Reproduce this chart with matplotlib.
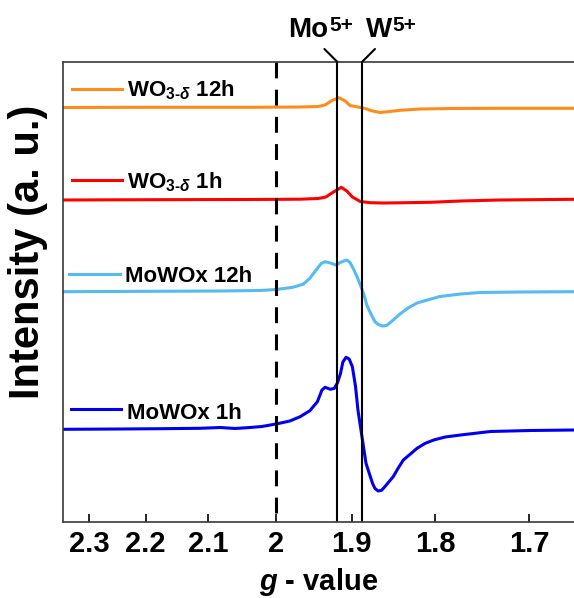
import numpy as np
import matplotlib
matplotlib.use('Agg')
import matplotlib.pyplot as plt
import matplotlib.transforms as mtransforms

plt.rcParams['font.family'] = ['Liberation Sans', 'DejaVu Sans']
plt.rcParams['font.weight'] = 'bold'
plt.rcParams['axes.labelweight'] = 'bold'
plt.rcParams['mathtext.fontset'] = 'custom'
plt.rcParams['mathtext.rm'] = 'Liberation Sans:bold'
plt.rcParams['mathtext.bf'] = 'Liberation Sans:bold'
plt.rcParams['mathtext.it'] = 'Liberation Sans:bold:italic'

# EPR spectra, g-value vs intensity (a.u., curves stacked with offsets)
g_wo3_12h = [2.349, 2.193, 2.037, 1.967, 1.943, 1.934, 1.925, 1.916, 1.908, 1.902,
             1.892, 1.883, 1.874, 1.865, 1.853, 1.841, 1.817, 1.783, 1.730, 1.656]
i_wo3_12h = [414.5, 414.7, 414.7, 415.0, 415.5, 417.0, 421.5, 424.3, 421.0, 416.5,
             415.0, 413.5, 411.0, 409.5, 410.5, 411.7, 413.0, 413.5, 413.7, 413.7]

g_wo3_1h = [2.349, 2.193, 2.037, 1.967, 1.943, 1.933, 1.923, 1.913, 1.906, 1.899,
            1.889, 1.877, 1.861, 1.841, 1.806, 1.772, 1.730, 1.656]
i_wo3_1h = [322.0, 322.3, 322.5, 322.8, 323.5, 325.0, 330.0, 334.7, 331.0, 325.0,
            320.5, 319.3, 319.0, 319.2, 319.7, 321.0, 322.0, 322.7]

g_mowox_12h = [2.349, 2.193, 2.081, 2.023, 2.000, 1.977, 1.963, 1.954, 1.944, 1.939,
               1.934, 1.927, 1.920, 1.913, 1.906, 1.902, 1.898, 1.893, 1.889, 1.884,
               1.881, 1.876, 1.871, 1.867, 1.862, 1.859, 1.856, 1.849, 1.841, 1.832,
               1.821, 1.809, 1.795, 1.772, 1.751, 1.709, 1.656]
i_mowox_12h = [230.3, 230.7, 231.0, 231.5, 232.5, 234.7, 237.7, 243.7, 253.7, 258.5,
               260.3, 259.0, 257.0, 260.0, 262.0, 259.5, 253.7, 245.0, 237.0, 226.0,
               217.0, 208.0, 200.3, 197.5, 196.0, 196.2, 197.0, 202.0, 208.0, 213.7,
               219.0, 222.0, 225.5, 228.0, 229.5, 230.0, 230.3]

g_mowox_1h = [2.349, 2.244, 2.176, 2.112, 2.081, 2.059, 2.037, 2.020, 2.000, 1.981,
              1.967, 1.954, 1.944, 1.938, 1.934, 1.927, 1.922, 1.918, 1.914, 1.911,
              1.907, 1.903, 1.899, 1.895, 1.892, 1.887, 1.882, 1.874, 1.871, 1.867,
              1.863, 1.859, 1.849, 1.843, 1.837, 1.828, 1.821, 1.812, 1.802, 1.789,
              1.772, 1.740, 1.699, 1.656]
i_mowox_1h = [92.7, 93.0, 93.3, 93.7, 94.5, 93.5, 94.5, 95.5, 98.0, 101.0,
              105.3, 111.3, 120.3, 132.0, 134.7, 132.7, 133.7, 139.0, 148.7, 160.0,
              164.7, 163.0, 155.3, 135.3, 112.0, 85.3, 58.7, 38.7, 33.5, 31.0,
              31.7, 35.3, 45.3, 54.0, 62.0, 68.5, 73.7, 78.5, 82.0, 85.0,
              87.0, 90.5, 91.5, 92.0]

labels = ['WO$_{3\\text{-}δ}$ 12h', 'WO$_{3\\text{-}δ}$ 1h', 'MoWOx 12h', 'MoWOx 1h']
colors = ['#ff8c1a', '#ff0000', '#55bbf2', '#0000f0']

g_ticks = [2.3, 2.2, 2.1, 2.0, 1.9, 1.8, 1.7]
tick_labels = ['2.3', '2.2', '2.1', '2', '1.9', '1.8', '1.7']
g_free = 2.0
g_mo, g_w = 1.918, 1.887

fig = plt.figure(figsize=(5.74, 5.98), dpi=100)
ax = fig.add_axes([63/574, 1 - 522/598, 511/574, 460/598])

# field axis is linear in 1/g
series = [(g_wo3_12h, i_wo3_12h), (g_wo3_1h, i_wo3_1h),
          (g_mowox_12h, i_mowox_12h), (g_mowox_1h, i_mowox_1h)]
for (g, inten), c in zip(series, colors):
    ax.plot(1/np.array(g), inten, color=c, lw=2.2,
            solid_joinstyle='round', solid_capstyle='round')

# labels next to each trace
key_pos = [(0.0176, 0.1155, 0.9413, 0.1246, 0.9246),
           (0.0176, 0.1155, 0.7435, 0.1246, 0.7254),
           (0.0124, 0.1115, 0.5391, 0.1213, 0.5211),
           (0.0157, 0.1135, 0.2450, 0.1246, 0.2242)]
for (x0, x1, yl, xt, yt), c, lab in zip(key_pos, colors, labels):
    ax.plot([x0, x1], [yl, yl], transform=ax.transAxes, color=c, lw=2.2)
    ax.text(xt, yt, lab, transform=ax.transAxes, fontsize=16, va='baseline')

trans = mtransforms.blended_transform_factory(ax.transData, ax.transAxes)
ax.plot([1/g_free, 1/g_free], [1, 0], transform=trans, color='k', lw=2.2,
        linestyle=(0, (5.2, 3.7)))

# Mo5+ / W5+ markers above the frame
marks = [(g_mo, 'Mo', -13, -49, -8), (g_w, 'W', 13, 4, 30)]
for g, name, tip, dx_txt, dx_sup in marks:
    ax.axvline(1/g, color='k', lw=1.5)
    ax.annotate('', xy=(1/g, 1), xycoords=trans, xytext=(tip, 13),
                textcoords='offset pixels', annotation_clip=False,
                arrowprops=dict(arrowstyle='-', lw=1.5, color='k', shrinkA=0, shrinkB=0))
    ax.annotate(name, xy=(1/g, 1), xycoords=trans, xytext=(dx_txt, 25),
                textcoords='offset pixels', ha='left', va='baseline',
                fontsize=20, annotation_clip=False)
    ax.annotate('5+', xy=(1/g, 1), xycoords=trans, xytext=(dx_sup, 31),
                textcoords='offset pixels', ha='left', va='baseline',
                fontsize=15, annotation_clip=False)

ax.set_xlim(1/2.349, 1/1.656)
ax.set_ylim(0, 460)
ax.set_xticks(1/np.array(g_ticks))
ax.set_xticklabels(tick_labels, fontsize=21)
ax.set_yticks([])
ax.tick_params(axis='x', direction='in', length=6, width=1.2, pad=5.5)
ax.spines['right'].set_visible(False)
for s in ['top', 'left', 'bottom']:
    ax.spines[s].set_linewidth(1.2)
    ax.spines[s].set_color('#3a3a3a')

ax.set_xlabel('$\\mathit{g}$ - value', fontsize=21)
ax.xaxis.set_label_coords(0.5, -0.095)
ax.xaxis.label.set_va('top')
ax.set_ylabel('Intensity (a. u.)', fontsize=30)
ax.yaxis.set_label_coords(-0.029, 0.587)

plt.savefig('out.png', dpi=100)
